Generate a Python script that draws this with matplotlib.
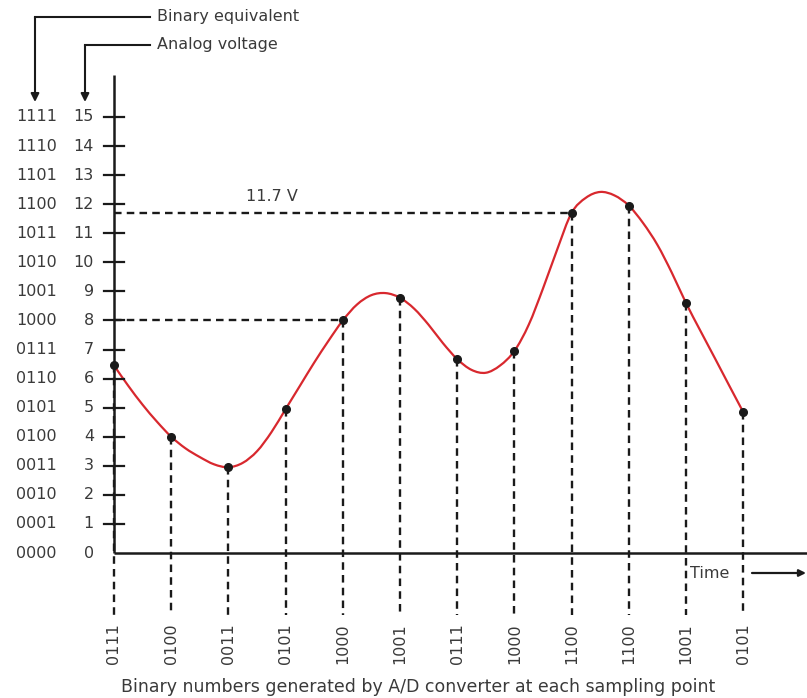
#!/usr/bin/env python3
"""A/D conversion sketch: analog voltage sampled and coded as 4-bit binary."""
import numpy as np
import matplotlib
matplotlib.use("Agg")
import matplotlib.pyplot as plt
from matplotlib.path import Path
from matplotlib.patches import PathPatch

# ── data ─────────────────────────────────────────────────────────────────────
VOLT_LEVELS = list(range(16))
BINARY_LABELS = ["0000", "0001", "0010", "0011", "0100", "0101", "0110", "0111",
                 "1000", "1001", "1010", "1011", "1100", "1101", "1110", "1111"]

# analog signal every quarter sampling interval
CURVE_STEP = 0.25
CURVE_V = [6.45, 5.75, 5.10, 4.52, 4.00, 3.60, 3.30, 3.05,
           2.95, 3.10, 3.50, 4.15, 4.95, 5.75, 6.55, 7.30,
           8.00, 8.55, 8.87, 8.94, 8.78, 8.40, 7.85, 7.22,
           6.67, 6.30, 6.20, 6.45, 6.95, 7.85, 9.10, 10.45,
           11.70, 12.22, 12.42, 12.30, 11.95, 11.35, 10.60, 9.65,
           8.60, 7.65, 6.72, 5.78, 4.85]
SAMPLE_EVERY = 4          # one sample per 4 curve readings
SAMPLE_CODES = ["0111", "0100", "0011", "0101", "1000", "1001",
                "0111", "1000", "1100", "1100", "1001", "0101"]
REF_LEVELS = [(8.0, 4), (11.7, 8)]   # (voltage, sample index)

# ── layout in pixels (807x698 canvas) ────────────────────────────────────────
W, H = 807, 698
X0, XS = 114, 57.2        # x pixel of t=0, pixels per sample
Y0, YS = 553, 29.07       # y pixel (from top) of 0 V, pixels per volt

def dx(p):  return (p - X0) / XS
def dy(p):  return (Y0 - p) / YS

FONT = ["DejaVu Sans"]
FS = 11.5
TXT = "#3a3a3a"
INK = "#1a1a1a"
RED = "#d8282e"

fig = plt.figure(figsize=(W / 100, H / 100), dpi=100)
ax = fig.add_axes([0, 0, 1, 1])
ax.set_xlim(dx(0), dx(W))
ax.set_ylim(dy(H), dy(0))
ax.axis("off")

curve_t = np.arange(len(CURVE_V)) * CURVE_STEP
curve_v = np.array(CURVE_V)
samp_t = curve_t[::SAMPLE_EVERY]
samp_v = curve_v[::SAMPLE_EVERY]

# axes
ax.plot([0, 0], [0, dy(75)], color=INK, lw=1.8, solid_capstyle="butt")
ax.plot([0, dx(W)], [0, 0], color=INK, lw=1.8, solid_capstyle="butt")
for v in VOLT_LEVELS[1:]:
    ax.plot([dx(104), dx(124)], [v, v], color=INK, lw=1.6)

# tick labels: decimal and binary columns
for v, b in zip(VOLT_LEVELS, BINARY_LABELS):
    ax.text(dx(94), v, str(v), ha="right", va="center", fontsize=FS,
            color=TXT, family=FONT)
    ax.text(dx(57), v, b, ha="right", va="center", fontsize=FS,
            color=TXT, family=FONT)

# dashed sample lines
dash = dict(color=INK, lw=1.7, ls=(0, (3.2, 2.2)))
y_bot = dy(615)
for t, v in zip(samp_t, samp_v):
    ax.plot([t, t], [v, y_bot], **dash)
for lvl, i in REF_LEVELS:
    ax.plot([0, samp_t[i]], [lvl, lvl], **dash)
ax.text(dx(246), dy(197), "11.7 V", ha="left", va="center", fontsize=FS,
        color=TXT, family=FONT)

# analog signal drawn as a smooth path through the readings (Catmull-Rom)
pts = np.column_stack([curve_t, curve_v])
ext = np.vstack([2 * pts[0] - pts[1], pts, 2 * pts[-1] - pts[-2]])
verts, codes = [pts[0]], [Path.MOVETO]
for k in range(1, len(ext) - 2):
    p0, p1, p2, p3 = ext[k - 1], ext[k], ext[k + 1], ext[k + 2]
    verts += [p1 + (p2 - p0) / 6, p2 - (p3 - p1) / 6, p2]
    codes += [Path.CURVE4] * 3
ax.add_patch(PathPatch(Path(verts, codes), fill=False, edgecolor=RED,
                       lw=1.6, capstyle="round"))
ax.plot(samp_t, samp_v, "o", color=INK, ms=5.5, zorder=5)

# binary code under each sample
for t, code in zip(samp_t, SAMPLE_CODES):
    ax.text(t, dy(623), code, rotation=90, ha="center", va="top",
            fontsize=FS, color=TXT, family=FONT)
ax.text(dx(418), dy(687), "Binary numbers generated by A/D converter at each sampling point",
        ha="center", va="center", fontsize=12.5, color=TXT, family=FONT)

# time arrow
ax.text(dx(690), dy(573), "Time", ha="left", va="center", fontsize=FS,
        color=TXT, family=FONT)
ax.annotate("", xy=(dx(806), dy(573)), xytext=(dx(752), dy(573)),
            arrowprops=dict(arrowstyle="-|>", color=INK, lw=1.6,
                            mutation_scale=10, shrinkA=0, shrinkB=0))

# legend callouts, top left
for label, xa, yl in [("Binary equivalent", 35, 17), ("Analog voltage", 85, 45)]:
    ax.plot([dx(xa), dx(150)], [dy(yl), dy(yl)], color=INK, lw=1.5)
    ax.annotate("", xy=(dx(xa), dy(102)), xytext=(dx(xa), dy(yl)),
                arrowprops=dict(arrowstyle="-|>", color=INK, lw=1.5,
                                mutation_scale=12, shrinkA=0, shrinkB=0))
    ax.text(dx(157), dy(yl), label, ha="left", va="center", fontsize=FS,
            color=TXT, family=FONT)

fig.savefig("out.png", dpi=100)
